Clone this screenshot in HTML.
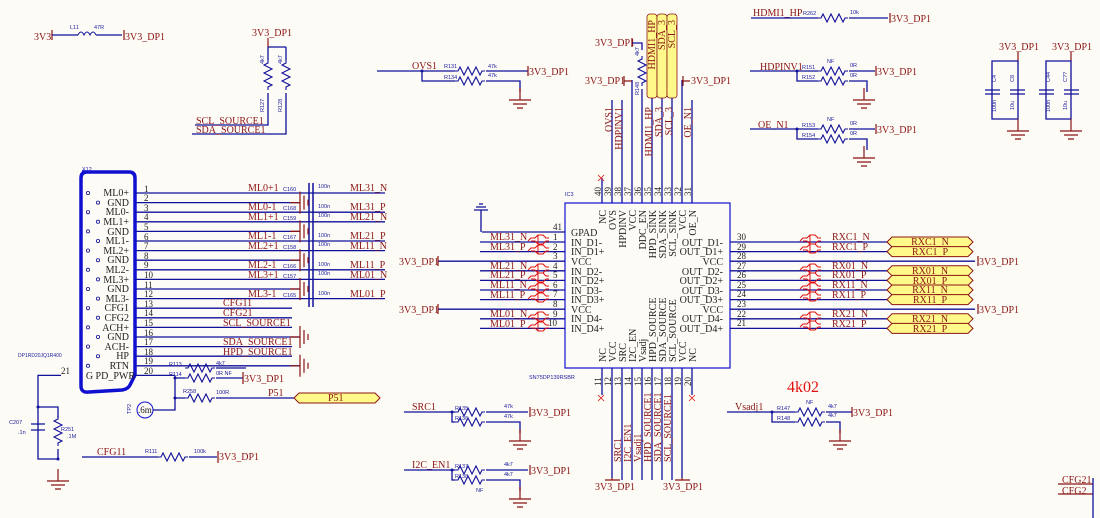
<!DOCTYPE html>
<html><head><meta charset="utf-8"><style>
html,body{margin:0;padding:0;background:#fdfbf6}
svg{display:block}
.w{stroke:#10109a;stroke-width:1.3;fill:none}
.r{stroke:#8b1414;stroke-width:1.2;fill:none}
.t{font-family:"Liberation Serif",serif;font-size:10px;fill:#222}
.n{font-family:"Liberation Serif",serif;font-size:10px;fill:#8b1414}
.s{font-family:"Liberation Sans",sans-serif;font-size:5.5px;fill:#2020a0}
.p{font-family:"Liberation Serif",serif;font-size:9px;fill:#222}
</style></head><body>
<svg width="1100" height="518" viewBox="0 0 1100 518" xmlns="http://www.w3.org/2000/svg">
<defs>
<path id="rh" d="M0,0 h3 l2,-4 l4,8 l4,-8 l4,8 l4,-8 l4,8 l2,-4 h3" stroke="#10109a" stroke-width="1.1" fill="none"/>
<path id="rv" d="M0,0 v3 l-4,2 l8,4 l-8,4 l8,4 l-8,4 l8,4 l-4,2 v3" stroke="#10109a" stroke-width="1.1" fill="none"/>
<g id="gnd"><path d="M0,-12 V0 M-11,0 H11 M-7,4 H7 M-3,8 H3" stroke="#8b1414" stroke-width="1.2" fill="none"/></g>
<g id="gndl"><path d="M-10,0 H0 M0,-11 V11 M4,-7 V7 M8,-3 V3" stroke="#8b1414" stroke-width="1.2" fill="none"/></g>
<g id="fb"><path d="M0,3 l3,-3 h4 l3,-3 h5 l3,3 h3 M3,3 h4 l3,3 h5 l3,-3 h3 M10,-3 v9" stroke="#e01010" stroke-width="1" fill="none"/></g>
<path id="port" d="M0,0 l5,-5 h76 l5,5 l-5,5 h-76 z" fill="#fff98a" stroke="#8b1414" stroke-width="1"/>
</defs>

<!-- top left inductor -->
<path class="r" d="M52,30 v10"/><text class="n" x="34" y="40">3V3</text>
<path class="w" d="M52,35 H78"/><path d="M78,35 q3,-6 6,0 q3,-6 6,0 q3,-6 6,0" stroke="#10109a" fill="none"/><path class="w" d="M96,35 H122"/>
<text class="s" x="70" y="29">L11</text><text class="s" x="94" y="29">47R</text>
<path class="r" d="M124,30 v10"/><text class="n" x="125" y="40">3V3_DP1</text>

<!-- pull-ups SCL/SDA -->
<text class="n" x="252" y="36">3V3_DP1</text><path class="r" d="M268,38 v9"/>
<path class="w" d="M268,47 H286 M268,47 V60 M286,47 V60"/>
<use href="#rv" x="268" y="60"/><use href="#rv" x="286" y="60"/>
<path class="w" d="M268,93 V125 H195 M286,93 V134 H192"/>
<text class="n" x="196" y="124">SCL_SOURCE1</text><text class="n" x="196" y="133">SDA_SOURCE1</text>
<text class="s" transform="translate(264,64) rotate(-90)">4k7</text><text class="s" transform="translate(282,64) rotate(-90)">4k7</text>
<text class="s" transform="translate(264,112) rotate(-90)">R127</text><text class="s" transform="translate(282,112) rotate(-90)">R128</text>

<!-- OVS1 -->
<text class="n" x="412" y="69">OVS1</text><path class="w" d="M377,71 H455 M422,71 V81 H455"/><circle cx="422" cy="71" r="1.5" fill="#10109a"/>
<use href="#rh" x="455" y="71"/><use href="#rh" x="455" y="81"/>
<path class="w" d="M486,71 H528 M486,81 H520 V92"/>
<path class="r" d="M528,66 v10"/><text class="n" x="529" y="75">3V3_DP1</text>
<use href="#gnd" x="520" y="100"/>
<text class="s" x="444" y="68">R131</text><text class="s" x="444" y="79">R134</text><text class="s" x="488" y="68">47k</text><text class="s" x="488" y="77">47k</text>

<!-- connector X12 -->
<text class="s" x="82" y="171">X12</text>
<path d="M82,172 H129 q6,0 6,6 V375 l-5,10 q-2,4 -8,5 L89,392 q-8,1 -8,-6 V178 q0,-6 6,-6 z" stroke="#1010d0" stroke-width="3.5" fill="none"/>
<g class="t" text-anchor="end" font-size="10">
<text x="129" y="196">ML0+</text><text x="129" y="206">GND</text><text x="129" y="215">ML0-</text><text x="129" y="225">ML1+</text>
<text x="129" y="235">GND</text><text x="129" y="244">ML1-</text><text x="129" y="254">ML2+</text><text x="129" y="263">GND</text>
<text x="129" y="273">ML2-</text><text x="129" y="283">ML3+</text><text x="129" y="292">GND</text><text x="129" y="302">ML3-</text>
<text x="129" y="311">CFG1</text><text x="129" y="321">CFG2</text><text x="129" y="331">ACH+</text><text x="129" y="340">GND</text>
<text x="129" y="350">ACH-</text><text x="129" y="359">HP</text><text x="129" y="369">RTN</text><text x="135" y="379">G PD_PWR</text>
</g>
<g stroke="#10109a" fill="#fdfbf6" stroke-width="0.8">
<circle cx="88" cy="193" r="1.6"/><circle cx="98" cy="202.6" r="1.6"/><circle cx="88" cy="212.2" r="1.6"/><circle cx="98" cy="221.8" r="1.6"/>
<circle cx="88" cy="231.4" r="1.6"/><circle cx="98" cy="241" r="1.6"/><circle cx="88" cy="250.6" r="1.6"/><circle cx="98" cy="260.2" r="1.6"/>
<circle cx="88" cy="269.8" r="1.6"/><circle cx="98" cy="279.4" r="1.6"/><circle cx="88" cy="289" r="1.6"/><circle cx="98" cy="298.6" r="1.6"/>
<circle cx="88" cy="308.2" r="1.6"/><circle cx="98" cy="317.8" r="1.6"/><circle cx="88" cy="327.4" r="1.6"/><circle cx="98" cy="337" r="1.6"/>
<circle cx="88" cy="346.6" r="1.6"/><circle cx="98" cy="356.2" r="1.6"/><circle cx="88" cy="365.8" r="1.6"/>
</g>
<g class="w">
<path d="M135,193 H385 M135,202.6 H300 M135,212.2 H385 M135,221.8 H385 M135,231.4 H300 M135,241 H385 M135,250.6 H385 M135,260.2 H300 M135,269.8 H385 M135,279.4 H385 M135,289 H300 M135,298.6 H385"/>
<path d="M135,308.2 H292 M135,317.8 H292 M135,327.4 H292 M135,337 H300 M135,346.6 H292 M135,356.2 H292 M135,365.8 H300 M135,375.4 H175"/>
<path d="M309,183 V307 M313,183 V307" stroke-width="1.5"/>
</g>
<g class="p">
<text x="144" y="192">1</text><text x="144" y="201">2</text><text x="144" y="211">3</text><text x="144" y="220">4</text><text x="144" y="230">5</text><text x="144" y="240">6</text><text x="144" y="249">7</text><text x="144" y="259">8</text><text x="144" y="268">9</text><text x="144" y="278">10</text><text x="144" y="288">11</text><text x="144" y="297">12</text><text x="144" y="307">13</text><text x="144" y="316">14</text><text x="144" y="326">15</text><text x="144" y="336">16</text><text x="144" y="345">17</text><text x="144" y="355">18</text><text x="144" y="364">19</text><text x="144" y="374">20</text><text x="61" y="374">21</text>
</g>
<use href="#gndl" x="300" y="202.6"/><use href="#gndl" x="300" y="231.4"/><use href="#gndl" x="300" y="260.2"/><use href="#gndl" x="300" y="289"/><use href="#gndl" x="300" y="337"/><use href="#gndl" x="300" y="365.8"/>
<g class="n">
<text x="248" y="191">ML0+1</text><text x="248" y="210">ML0-1</text><text x="248" y="220">ML1+1</text><text x="248" y="239">ML1-1</text><text x="248" y="249">ML2+1</text><text x="248" y="268">ML2-1</text><text x="248" y="278">ML3+1</text><text x="248" y="297">ML3-1</text>
<text x="350" y="191">ML31_N</text><text x="350" y="210">ML31_P</text><text x="350" y="220">ML21_N</text><text x="350" y="239">ML21_P</text><text x="350" y="249">ML11_N</text><text x="350" y="268">ML11_P</text><text x="350" y="278">ML01_N</text><text x="350" y="297">ML01_P</text>
<text x="223" y="306">CFG11</text><text x="223" y="316">CFG21</text><text x="223" y="326">SCL_SOURCE1</text><text x="223" y="345">SDA_SOURCE1</text><text x="223" y="355">HPD_SOURCE1</text>
</g>
<g class="s">
<text x="283" y="191">C160</text><text x="283" y="210">C168</text><text x="283" y="220">C159</text><text x="283" y="239">C167</text><text x="283" y="249">C158</text><text x="283" y="268">C166</text><text x="283" y="278">C157</text><text x="283" y="297">C165</text>
<text x="318" y="188">100n</text><text x="318" y="208">100n</text><text x="318" y="217">100n</text><text x="318" y="237">100n</text><text x="318" y="246">100n</text><text x="318" y="266">100n</text><text x="318" y="275">100n</text><text x="318" y="295">100n</text>
<text x="18" y="357" font-size="5">DP1RD20JQ1R400</text>
</g>
<!-- R113/R114/R258 -->
<use href="#rh" x="185" y="368"/><use href="#rh" x="185" y="378"/><use href="#rh" x="185" y="398"/>
<path class="w" d="M175,375.4 V398 H185 M175,378 H185 M216,368 H246 M216,378 H243 M216,398 H294"/>
<circle cx="175" cy="378" r="1.5" fill="#10109a"/><circle cx="175" cy="398" r="1.5" fill="#10109a"/>
<path class="r" d="M243,372 v12"/><text class="n" x="244" y="382">3V3_DP1</text>
<text class="s" x="169" y="366">R113</text><text class="s" x="169" y="376">R114</text><text class="s" x="183" y="393">R258</text>
<text class="s" x="216" y="365">4k7</text><text class="s" x="216" y="375">0R NF</text><text class="s" x="216" y="394">100R</text>
<text class="n" x="268" y="396">P51</text>
<use href="#port" x="294" y="398"/><text class="n" x="328" y="401">P51</text>
<circle cx="145" cy="410" r="8" fill="none" stroke="#1010d0" stroke-width="1"/><text class="p" x="138" y="413">.6m</text>
<path class="w" d="M153,410 H175 V398"/><text class="s" transform="translate(131,414) rotate(-90)">TP2</text>
<!-- C207 R251 -->
<path class="w" d="M61,375.4 H38 V459 H58 M38,407 H58 V418 M38,407 V424 M38,432 V459 M58,449 V459"/>
<path d="M31,424 H45 M31,430 H45" stroke="#10109a" stroke-width="1.3"/>
<use href="#rv" x="58" y="416"/><circle cx="38" cy="407" r="1.5" fill="#10109a"/><circle cx="58" cy="459" r="1.5" fill="#10109a"/>
<use href="#gnd" x="58" y="481"/>
<text class="s" x="9" y="424">C207</text><text class="s" x="18" y="434">.1n</text><text class="s" x="61" y="431">R251</text><text class="s" x="67" y="438">.1M</text>
<path class="w" d="M82,457 H150"/><text class="n" x="97" y="455">CFG11</text>
<use href="#rh" x="158" y="457"/><path class="w" d="M150,457 H158 M189,457 H217"/>
<text class="s" x="145" y="453">R111</text><text class="s" x="194" y="453">100k</text>
<path class="r" d="M218,451 v12"/><text class="n" x="219" y="460">3V3_DP1</text>

<!-- IC3 -->
<rect x="565" y="203" width="165" height="165" fill="none" stroke="#1010d0" stroke-width="1.2"/>
<text class="s" x="565" y="196">IC3</text><text class="s" x="529" y="379" font-size="6">SN75DP139RSBR</text>
<g class="w">
<path d="M482,232 H565 M480,242 H565 M480,251.6 H565 M438,261.2 H565 M480,270.8 H565 M480,280.4 H565 M480,290 H565 M480,299.6 H565 M438,309.2 H565 M480,318.8 H565 M480,328.4 H565"/>
<path d="M481,232 V210 M474,210 H488 M476,207 H486 M479,204 H483" stroke="#10109a"/>
<path d="M730,242 H972 M730,251.6 H972 M730,261.2 H975 M730,270.8 H972 M730,280.4 H972 M730,290 H972 M730,299.6 H972 M730,309.2 H975 M730,318.8 H972 M730,328.4 H972"/>
<path d="M612,203 V100 M622,203 V100 M632,203 V80 M642,203 V95 M652,203 V98 M662,203 V98 M672,203 V98 M682,203 V80 M692,203 V100 M602,203 V178"/>
<path d="M602,368 V395 M612,368 V478 M622,368 V480 M632,368 V480 M642,368 V480 M652,368 V480 M662,368 V480 M672,368 V480 M682,368 V478 M692,368 V395"/>
</g>
<path class="r" d="M438,256 v10 M438,304 v10"/><text class="n" x="399" y="265">3V3_DP1</text><text class="n" x="399" y="313">3V3_DP1</text>
<g class="p"><text x="553" y="230">41</text><text x="553" y="240">1</text><text x="553" y="250">2</text><text x="553" y="259">3</text><text x="553" y="269">4</text><text x="553" y="278">5</text><text x="553" y="288">6</text><text x="553" y="297">7</text><text x="553" y="307">8</text><text x="553" y="317">9</text><text x="548" y="326">10</text>
<text x="737" y="240">30</text><text x="737" y="250">29</text><text x="737" y="259">28</text><text x="737" y="269">27</text><text x="737" y="278">26</text><text x="737" y="288">25</text><text x="737" y="297">24</text><text x="737" y="307">23</text><text x="737" y="317">22</text><text x="737" y="326">21</text></g>
<g class="t"><text x="571" y="236">GPAD</text><text x="571" y="246">IN_D1-</text><text x="571" y="255">IN_D1+</text><text x="571" y="265">VCC</text><text x="571" y="275">IN_D2-</text><text x="571" y="284">IN_D2+</text><text x="571" y="294">IN_D3-</text><text x="571" y="303">IN_D3+</text><text x="571" y="313">VCC</text><text x="571" y="322">IN_D4-</text><text x="571" y="332">IN_D4+</text></g>
<g class="t" text-anchor="end"><text x="723" y="246">OUT_D1-</text><text x="723" y="255">OUT_D1+</text><text x="723" y="265">VCC</text><text x="723" y="275">OUT_D2-</text><text x="723" y="284">OUT_D2+</text><text x="723" y="294">OUT_D3-</text><text x="723" y="303">OUT_D3+</text><text x="723" y="313">VCC</text><text x="723" y="322">OUT_D4-</text><text x="723" y="332">OUT_D4+</text></g>
<g class="t" text-anchor="end">
<text transform="translate(606,210) rotate(-90)">NC</text><text transform="translate(616,210) rotate(-90)">OVS</text><text transform="translate(626,210) rotate(-90)">HPDINV</text><text transform="translate(636,210) rotate(-90)">VCC</text><text transform="translate(646,210) rotate(-90)">DDC_EN</text><text transform="translate(656,210) rotate(-90)">HPD_SINK</text><text transform="translate(666,210) rotate(-90)">SDA_SINK</text><text transform="translate(676,210) rotate(-90)">SCL_SINK</text><text transform="translate(686,210) rotate(-90)">VCC</text><text transform="translate(696,210) rotate(-90)">OE_N</text>
</g>
<g class="t">
<text transform="translate(606,362) rotate(-90)">NC</text><text transform="translate(616,362) rotate(-90)">VCC</text><text transform="translate(626,362) rotate(-90)">SRC</text><text transform="translate(636,362) rotate(-90)">I2C_EN</text><text transform="translate(646,362) rotate(-90)">Vsadj</text><text transform="translate(656,362) rotate(-90)">HPD_SOURCE</text><text transform="translate(666,362) rotate(-90)">SDA_SOURCE</text><text transform="translate(676,362) rotate(-90)">SCL_SOURCE</text><text transform="translate(686,362) rotate(-90)">VCC</text><text transform="translate(696,362) rotate(-90)">NC</text>
</g>
<g class="p">
<text transform="translate(601,196) rotate(-90)">40</text><text transform="translate(611,196) rotate(-90)">39</text><text transform="translate(621,196) rotate(-90)">38</text><text transform="translate(631,196) rotate(-90)">37</text><text transform="translate(641,196) rotate(-90)">36</text><text transform="translate(651,196) rotate(-90)">35</text><text transform="translate(661,196) rotate(-90)">34</text><text transform="translate(671,196) rotate(-90)">33</text><text transform="translate(681,196) rotate(-90)">32</text><text transform="translate(691,196) rotate(-90)">31</text>
<text transform="translate(601,386) rotate(-90)">11</text><text transform="translate(611,386) rotate(-90)">12</text><text transform="translate(621,386) rotate(-90)">13</text><text transform="translate(631,386) rotate(-90)">14</text><text transform="translate(641,386) rotate(-90)">15</text><text transform="translate(651,386) rotate(-90)">16</text><text transform="translate(661,386) rotate(-90)">17</text><text transform="translate(671,386) rotate(-90)">18</text><text transform="translate(681,386) rotate(-90)">19</text><text transform="translate(691,386) rotate(-90)">20</text>
</g>
<path d="M598,175 l6,6 M604,175 l-6,6 M598,395 l6,6 M604,395 l-6,6 M689,395 l6,6 M695,395 l-6,6" stroke="#e01010" stroke-width="0.8"/>
<!-- IC left nets -->
<g class="n"><text x="490" y="240">ML31_N</text><text x="490" y="250">ML31_P</text><text x="490" y="269">ML21_N</text><text x="490" y="278">ML21_P</text><text x="490" y="288">ML11_N</text><text x="490" y="298">ML11_P</text><text x="490" y="317">ML01_N</text><text x="490" y="327">ML01_P</text></g>
<use href="#fb" x="528" y="238"/><use href="#fb" x="528" y="248"/><use href="#fb" x="528" y="267"/><use href="#fb" x="528" y="276"/><use href="#fb" x="528" y="286"/><use href="#fb" x="528" y="296"/><use href="#fb" x="528" y="315"/><use href="#fb" x="528" y="325"/>
<!-- IC right -->
<use href="#fb" x="800" y="238"/><use href="#fb" x="800" y="247"/><use href="#fb" x="800" y="267"/><use href="#fb" x="800" y="276"/><use href="#fb" x="800" y="286"/><use href="#fb" x="800" y="295"/><use href="#fb" x="800" y="315"/><use href="#fb" x="800" y="324"/>
<g class="n"><text x="832" y="240">RXC1_N</text><text x="832" y="250">RXC1_P</text><text x="832" y="269">RX01_N</text><text x="832" y="278">RX01_P</text><text x="832" y="288">RX11_N</text><text x="832" y="298">RX11_P</text><text x="832" y="317">RX21_N</text><text x="832" y="327">RX21_P</text></g>
<g><use href="#port" x="887" y="242"/><use href="#port" x="887" y="251.6"/><use href="#port" x="887" y="270.8"/><use href="#port" x="887" y="280.4"/><use href="#port" x="887" y="290"/><use href="#port" x="887" y="299.6"/><use href="#port" x="887" y="318.8"/><use href="#port" x="887" y="328.4"/></g>
<g class="n" text-anchor="middle"><text x="930" y="245">RXC1_N</text><text x="930" y="255">RXC1_P</text><text x="930" y="274">RX01_N</text><text x="930" y="284">RX01_P</text><text x="930" y="293">RX11_N</text><text x="930" y="303">RX11_P</text><text x="930" y="322">RX21_N</text><text x="930" y="332">RX21_P</text></g>
<path class="r" d="M978,256 v10 M978,304 v10"/><text class="n" x="979" y="265">3V3_DP1</text><text class="n" x="979" y="313">3V3_DP1</text>
<!-- top bus -->
<rect x="647" y="14" width="10" height="84" rx="3" fill="#fff98a" stroke="#8b1414" stroke-width="0.8"/>
<rect x="657" y="14" width="10" height="84" rx="3" fill="#fff98a" stroke="#8b1414" stroke-width="0.8"/>
<rect x="667" y="14" width="10" height="84" rx="3" fill="#fff98a" stroke="#8b1414" stroke-width="0.8"/>
<g class="n" text-anchor="end"><text transform="translate(655,20) rotate(-90)">HDMI1_HP</text><text transform="translate(665,20) rotate(-90)">SDA_3</text><text transform="translate(675,20) rotate(-90)">SCL_3</text></g>
<g class="n" text-anchor="end"><text transform="translate(612,107) rotate(-90)">OVS1</text><text transform="translate(622,107) rotate(-90)">HDPINV1</text><text transform="translate(652,107) rotate(-90)">HDMI1_HP</text><text transform="translate(662,107) rotate(-90)">SDA_3</text><text transform="translate(672,107) rotate(-90)">SCL_3</text><text transform="translate(691,107) rotate(-90)">OE_N1</text></g>
<text class="n" x="595" y="46">3V3_DP1</text><path class="r" d="M632,38 v9"/><path class="w" d="M632,43 H642 V50"/>
<use href="#rv" x="642" y="56"/><path class="w" d="M642,89 V95"/>
<text class="s" transform="translate(639,56) rotate(-90)">4k7</text><text class="s" transform="translate(639,95) rotate(-90)">R148</text>
<text class="n" x="585" y="84">3V3_DP1</text><path class="r" d="M624,76 v10 M624,81 H632"/>
<text class="n" x="691" y="84">3V3_DP1</text><path class="r" d="M683,76 v10 M682,81 H690"/>
<!-- HDMI1_HP pull-up -->
<text class="n" x="753" y="16">HDMI1_HP</text><path class="w" d="M751,18 H818 M849,18 H888"/><use href="#rh" x="818" y="18"/>
<text class="s" x="803" y="15">R262</text><text class="s" x="850" y="14">10k</text>
<path class="r" d="M890,13 v10"/><text class="n" x="891" y="22">3V3_DP1</text>
<text class="n" x="760" y="70">HDPINV1</text><path class="w" d="M750,71 H818 M797,71 V81 H818 M849,71 H875 M849,81 H867 V92"/><circle cx="797" cy="71" r="1.5" fill="#10109a"/>
<use href="#rh" x="818" y="71"/><use href="#rh" x="818" y="81"/>
<text class="s" x="802" y="69">R151</text><text class="s" x="802" y="79">R152</text><text class="s" x="827" y="63">NF</text><text class="s" x="850" y="67">0R</text><text class="s" x="850" y="77">0R</text>
<path class="r" d="M876,66 v10"/><text class="n" x="877" y="75">3V3_DP1</text><use href="#gnd" x="864" y="100"/>
<text class="n" x="758" y="128">OE_N1</text><path class="w" d="M750,129 H818 M797,129 V139 H818 M849,129 H875 M849,139 H867 V150"/><circle cx="797" cy="129" r="1.5" fill="#10109a"/>
<use href="#rh" x="818" y="129"/><use href="#rh" x="818" y="139"/>
<text class="s" x="802" y="127">R153</text><text class="s" x="802" y="137">R154</text><text class="s" x="827" y="121">NF</text><text class="s" x="850" y="125">0R</text><text class="s" x="850" y="135">0R</text>
<path class="r" d="M876,124 v10"/><text class="n" x="877" y="133">3V3_DP1</text><use href="#gnd" x="864" y="158"/>
<!-- right caps -->
<text class="n" x="999" y="50">3V3_DP1</text><text class="n" x="1052" y="50">3V3_DP1</text>
<path class="r" d="M1018,52 V61 M1071,52 V61"/>
<path class="w" d="M992,61 H1018 V119 H992 Z M1046,61 H1071 V119 H1046 Z"/>
<g stroke="#10109a" stroke-width="1.3"><path d="M985,90 H1000 M985,94 H1000 M1010,90 H1025 M1010,94 H1025 M1039,90 H1054 M1039,94 H1054 M1064,90 H1079 M1064,94 H1079"/></g>
<path d="M990,88 V92 M1043,88 V92" stroke="#fdfbf6" stroke-width="0"/>
<use href="#gnd" x="1018" y="131"/><use href="#gnd" x="1071" y="131"/>
<g class="s"><text transform="translate(996,82) rotate(-90)">C4</text><text transform="translate(1014,82) rotate(-90)">C8</text><text transform="translate(1050,82) rotate(-90)">C44</text><text transform="translate(1067,82) rotate(-90)">C??</text>
<text transform="translate(996,112) rotate(-90)">100n</text><text transform="translate(1014,110) rotate(-90)">10u</text><text transform="translate(1050,112) rotate(-90)">100n</text><text transform="translate(1067,110) rotate(-90)">10u</text></g>
<!-- bottom SRC1 / I2C -->
<text class="n" x="412" y="410">SRC1</text><path class="w" d="M404,412 H455 M452,412 V422 H455 M486,412 H528 M486,422 H520 V433"/><circle cx="452" cy="412" r="1.5" fill="#10109a"/>
<use href="#rh" x="455" y="412"/><use href="#rh" x="455" y="422"/>
<text class="s" x="455" y="410">R135</text><text class="s" x="455" y="420">R136</text><text class="s" x="504" y="408">47k</text><text class="s" x="504" y="418">47k</text>
<path class="r" d="M530,407 v10"/><text class="n" x="531" y="416">3V3_DP1</text><use href="#gnd" x="520" y="441"/>
<text class="n" x="412" y="468">I2C_EN1</text><path class="w" d="M404,470 H455 M452,470 V480 H455 M486,470 H528 M486,480 H520 V491"/><circle cx="452" cy="470" r="1.5" fill="#10109a"/>
<use href="#rh" x="455" y="470"/><use href="#rh" x="455" y="480"/>
<text class="s" x="455" y="468">R137</text><text class="s" x="455" y="478">R138</text><text class="s" x="504" y="466">4k7</text><text class="s" x="504" y="476">4k7</text><text class="s" x="476" y="492">NF</text>
<path class="r" d="M530,465 v10"/><text class="n" x="531" y="474">3V3_DP1</text><use href="#gnd" x="520" y="499"/>
<g class="n"><text transform="translate(621,462) rotate(-90)">SRC1</text><text transform="translate(631,462) rotate(-90)">I2C_EN1</text><text transform="translate(641,462) rotate(-90)">Vsadj1</text><text transform="translate(651,462) rotate(-90)">HPD_SOURCE1</text><text transform="translate(661,462) rotate(-90)">SDA_SOURCE1</text><text transform="translate(671,462) rotate(-90)">SCL_SOURCE1</text></g>
<path class="r" d="M605,480 H620 M612,478 V480 M675,480 H690 M682,478 V480"/>
<text class="n" x="595" y="490">3V3_DP1</text><text class="n" x="663" y="490">3V3_DP1</text>
<!-- Vsadj -->
<text font-family="Liberation Serif,serif" font-size="16" fill="#e01010" x="787" y="392">4k02</text>
<text class="n" x="735" y="410">Vsadj1</text><path class="w" d="M727,412 H795 M772,412 V422 H795 M826,412 H852 M826,422 H840 V433"/><circle cx="772" cy="412" r="1.5" fill="#10109a"/>
<use href="#rh" x="795" y="412"/><use href="#rh" x="795" y="422"/>
<text class="s" x="777" y="410">R147</text><text class="s" x="777" y="420">R148</text><text class="s" x="806" y="404">NF</text><text class="s" x="828" y="408">4k7</text><text class="s" x="828" y="417">4k7</text>
<path class="r" d="M852,407 v10"/><text class="n" x="853" y="416">3V3_DP1</text><use href="#gnd" x="840" y="441"/>
<!-- bottom right partial -->
<path class="r" d="M1058,484 H1093 M1058,494 H1093"/><text class="n" x="1062" y="483">CFG21</text><text class="n" x="1062" y="494">CFG2</text>
<path d="M1093,478 V518" stroke="#10109a" stroke-width="1.3"/>
<path d="M1,240 V340" stroke="#10109a" stroke-width="0"/>
</svg>
</body></html>
